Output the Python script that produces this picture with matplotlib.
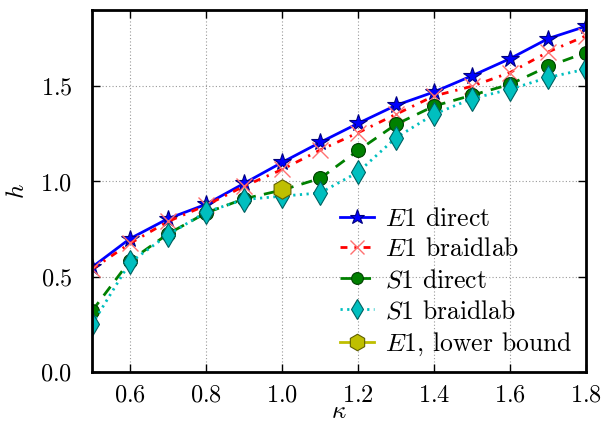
import matplotlib
matplotlib.use('Agg')
import matplotlib.pyplot as plt

plt.rcParams['font.family'] = 'cmr10'
plt.rcParams['mathtext.fontset'] = 'cm'
plt.rcParams['axes.formatter.use_mathtext'] = True

kappa = [0.5, 0.6, 0.7, 0.8, 0.9, 1.0, 1.1, 1.2, 1.3, 1.4, 1.5, 1.6, 1.7, 1.8]
e1_direct = [0.55, 0.70, 0.805, 0.88, 0.99, 1.10, 1.205, 1.305, 1.40, 1.47, 1.555, 1.645, 1.75, 1.815]
e1_braidlab = [0.54, 0.675, 0.79, 0.875, 0.975, 1.063, 1.165, 1.256, 1.353, 1.449, 1.50, 1.572, 1.68, 1.765]
s1_direct = [0.32, 0.584, 0.725, 0.835, 0.909, 0.955, 1.016, 1.163, 1.30, 1.396, 1.453, 1.51, 1.604, 1.677]
s1_braidlab = [0.25, 0.575, 0.72, 0.84, 0.905, 0.923, 0.94, 1.049, 1.23, 1.353, 1.435, 1.484, 1.546, 1.59]
lb_kappa = [1.0]
lb_value = [0.96]

fig = plt.figure(figsize=(6.03, 4.36), dpi=100)
ax = fig.add_axes([0.1526, 0.1468, 0.8194, 0.8302])

ax.plot(kappa, e1_direct, 'b-', marker='*', ms=13, mec='navy', mew=0.8, lw=2, label=r'$E1$ direct')
ax.plot(kappa, e1_braidlab, color='r', ls=(0, (2.5, 2.5, 0.8, 2.5)), marker='x', ms=12, mec='#ff7070', mew=1.0, lw=2, label=r'$E1$ braidlab')
ax.plot(kappa, s1_direct, color='g', ls=(0, (4, 3)), marker='o', ms=10, mfc='green', mec='#004000', mew=0.8, lw=2, label=r'$S1$ direct')
ax.plot(kappa, s1_braidlab, color='c', ls=(0, (0.8, 1.6)), marker='d', ms=12, mfc='c', mec='#006060', mew=0.8, lw=2, label=r'$S1$ braidlab')
ax.plot(lb_kappa, lb_value, 'y-', marker='h', ms=14, mfc='#bfbf00', mec='#606000', mew=0.8, lw=2, label=r'$E1$, lower bound')

ax.set_xlim(0.5, 1.8)
ax.set_ylim(0, 1.9)
ax.set_xticks([0.6, 0.8, 1.0, 1.2, 1.4, 1.6, 1.8])
ax.set_yticks([0.0, 0.5, 1.0, 1.5])
ax.tick_params(direction='in', top=True, right=True, length=6, width=1, labelsize=17.5)
ax.tick_params(axis='x', pad=9)
ax.tick_params(axis='y', pad=14)
ax.grid(True, linestyle=(0, (1, 2)), color='#999999', lw=0.8)
for s in ax.spines.values():
    s.set_linewidth(2)

ax.set_xlabel(r'$\kappa$', fontsize=18, labelpad=-4)
ax.set_ylabel(r'$h$', fontsize=18, labelpad=8)

ax.legend(loc='lower right', frameon=False, fontsize=18.5, handlelength=1.3, markerscale=0.85,
          labelspacing=0.28, borderaxespad=0.15, handletextpad=0.43)

fig.savefig('out.png', dpi=100)
